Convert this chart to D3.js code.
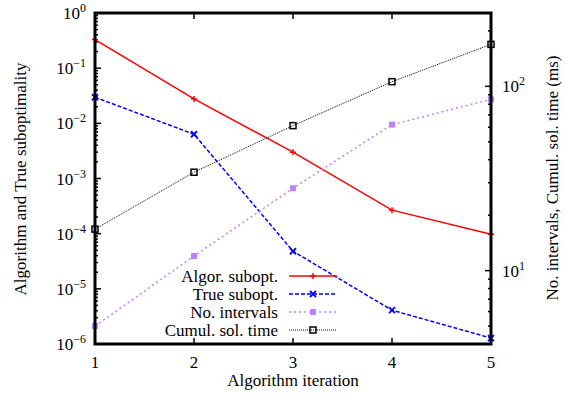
<!DOCTYPE html>
<html><head><meta charset="utf-8">
<script src="https://cdn.jsdelivr.net/npm/d3@7"></script>
<style>
@font-face{font-family:"GPSerif";src:local("Liberation Serif"),local("LiberationSerif-Regular"),local("LiberationSerif"),local("Times New Roman");font-display:swap}
body{margin:0;background:#fff}svg{display:block}
</style>
</head><body><svg id="c" width="567" height="405"></svg>
<script>
const iterations = [1, 2, 3, 4, 5];
const algorSubopt = [0.33, 0.0277, 0.0030, 2.67e-4, 9.8e-5];
const trueSubopt = [0.0297, 0.00634, 4.8e-5, 4.1e-6, 1.28e-6];
const noIntervals = [5, 12, 28, 62, 85];
const cumulTime = [16.8, 34.2, 61.2, 106, 169];
const leftTickExps = [0, -1, -2, -3, -4, -5, -6];
const rightTickExps = [1, 2];
const legendLabels = ["Algor. subopt.", "True subopt.", "No. intervals", "Cumul. sol. time"];

const svg = d3.select("#c");
const L = 95, R = 491, T = 13, B = 344;
const x = d3.scaleLinear().domain([1, 5]).range([L, R]);
const y = d3.scaleLog().domain([1e-6, 1]).range([B, T]);
const y2 = d3.scaleLog().domain([4, 250]).range([B, T]);
const FS = 17, FSUP = 12;
const FAMILY = '"Liberation Serif", "GPSerif", "Times New Roman", "DejaVu Serif", serif';

const g = svg.append("g");
function txt(sel) { return sel.append("text").attr("class", "t").style("font-family", FAMILY).style("font-size", FS + "px").attr("fill", "#000"); }

leftTickExps.forEach(e => {
  const t = txt(g).attr("x", 86).attr("y", y(Math.pow(10, e)) + 6).attr("text-anchor", "end");
  t.append("tspan").text("10");
  t.append("tspan").attr("dy", -7).style("font-size", FSUP + "px").text(e === 0 ? "0" : "\u2212" + (-e));
});
rightTickExps.forEach(e => {
  const t = txt(g).attr("x", 502).attr("y", y2(Math.pow(10, e)) + 6);
  t.append("tspan").text("10");
  t.append("tspan").attr("dy", -7).style("font-size", FSUP + "px").text(e);
});
iterations.forEach(v => {
  txt(g).attr("x", x(v)).attr("y", 368).attr("text-anchor", "middle").text(v);
});
txt(g).attr("x", L + (R - L) / 2).attr("y", 386).attr("text-anchor", "middle").text("Algorithm iteration");
txt(g).attr("transform", "translate(26,179) rotate(-90)").attr("text-anchor", "middle").text("Algorithm and True suboptimality");
txt(g).attr("transform", "translate(558,178) rotate(-90)").attr("text-anchor", "middle").text("No. intervals, Cumul. sol. time (ms)");

const tk = g.append("g").attr("stroke", "#000").attr("stroke-width", 1.5);
for (let e = -6; e <= 0; e++) {
  tk.append("line").attr("x1", L).attr("x2", L + 6).attr("y1", y(Math.pow(10, e))).attr("y2", y(Math.pow(10, e)));
  if (e < 0) for (let m = 2; m <= 9; m++) {
    const v = m * Math.pow(10, e);
    tk.append("line").attr("x1", L).attr("x2", L + 3).attr("y1", y(v)).attr("y2", y(v));
  }
}
[4,5,6,7,8,9,20,30,40,50,60,70,80,90,200].forEach(v => {
  tk.append("line").attr("x1", R).attr("x2", R - 3).attr("y1", y2(v)).attr("y2", y2(v));
});
[10, 100].forEach(v => tk.append("line").attr("x1", R).attr("x2", R - 6).attr("y1", y2(v)).attr("y2", y2(v)));
iterations.forEach(v => {
  tk.append("line").attr("x1", x(v)).attr("x2", x(v)).attr("y1", B).attr("y2", B - 6);
  tk.append("line").attr("x1", x(v)).attr("x2", x(v)).attr("y1", T).attr("y2", T + 6);
});

const series = [
  {vals: algorSubopt, sc: y, color: "#ff0000", w: 1.5, dash: null, mk: "plus"},
  {vals: trueSubopt, sc: y, color: "#0000ff", w: 1.5, dash: "4,2", mk: "cross"},
  {vals: noIntervals, sc: y2, color: "#c080ff", w: 1.5, dash: "2,3", mk: "fsq"},
  {vals: cumulTime, sc: y2, color: "#000000", w: 1, dash: "1,1", mk: "osq"}
];
const plot = g.append("g");
function marker(sel, kind, cx, cy, color) {
  const r = 3;
  if (kind === "plus") {
    sel.append("path").attr("d", `M${cx-r},${cy}H${cx+r}M${cx},${cy-r}V${cy+r}`).attr("stroke", color).attr("stroke-width", 1.5);
  } else if (kind === "cross") {
    sel.append("path").attr("d", `M${cx-r},${cy-r}L${cx+r},${cy+r}M${cx-r},${cy+r}L${cx+r},${cy-r}`).attr("stroke", color).attr("stroke-width", 1.8);
  } else if (kind === "fsq") {
    sel.append("rect").attr("x", cx - r).attr("y", cy - r).attr("width", 2 * r).attr("height", 2 * r).attr("fill", color);
  } else {
    sel.append("rect").attr("x", cx - r).attr("y", cy - r).attr("width", 2 * r).attr("height", 2 * r).attr("fill", "none").attr("stroke", color).attr("stroke-width", 1.5);
  }
}
series.forEach(s => {
  const line = d3.line().x((d, i) => x(iterations[i])).y(d => s.sc(d));
  plot.append("path").attr("d", line(s.vals)).attr("fill", "none").attr("stroke", s.color).attr("stroke-width", s.w).attr("stroke-dasharray", s.dash);
  s.vals.forEach((d, i) => marker(plot, s.mk, x(iterations[i]), s.sc(d), s.color));
});

legendLabels.forEach((lab, i) => {
  const yy = 276 + i * 18;
  const s = series[i];
  txt(g).attr("x", 278).attr("y", yy + 6).attr("text-anchor", "end").text(lab);
  g.append("line").attr("x1", 289).attr("x2", 337).attr("y1", yy).attr("y2", yy).attr("stroke", s.color).attr("stroke-width", s.w).attr("stroke-dasharray", s.dash);
  marker(g, s.mk, 313, yy, s.color);
});

g.append("rect").attr("x", L).attr("y", T).attr("width", R - L).attr("height", B - T).attr("fill", "none").attr("stroke", "#000").attr("stroke-width", 3);
</script></body></html>
